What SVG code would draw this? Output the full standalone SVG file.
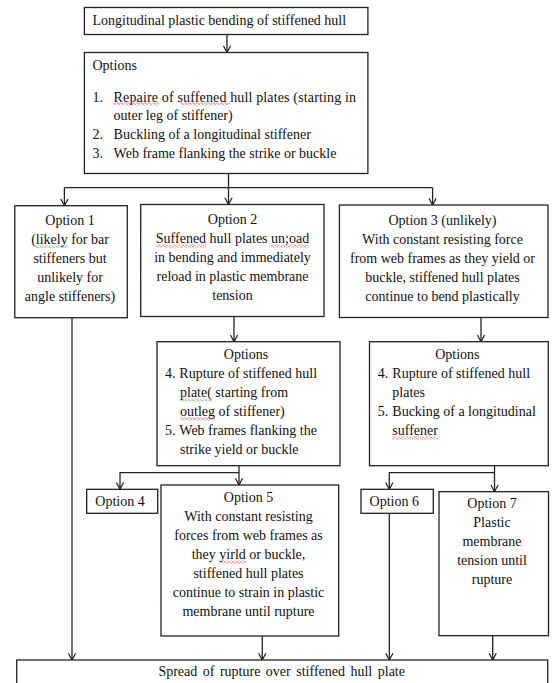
<svg xmlns="http://www.w3.org/2000/svg" width="552" height="683" viewBox="0 0 552 683">
<style>
.box{fill:#fff;stroke:#222;stroke-width:1.3}
.t{font-family:"Liberation Serif","Times New Roman",serif;font-size:14px;fill:#111}
.c{text-anchor:middle}
.ln{fill:none;stroke:#222;stroke-width:1.3}
</style>
<defs>
<marker id="ah" viewBox="0 0 10 10" refX="9.5" refY="5" markerWidth="9" markerHeight="9" markerUnits="userSpaceOnUse" orient="auto">
<path d="M2,1 L9.5,5 L2,9" fill="none" stroke="#222" stroke-width="1.4"/>
</marker>
<pattern id="wr" patternUnits="userSpaceOnUse" width="4" height="3">
<path d="M0,1.5 L1,0.5 L3,2.5 L4,1.5" fill="none" stroke="#e02020" stroke-width="0.8"/>
</pattern>
<pattern id="wg" patternUnits="userSpaceOnUse" width="4" height="3">
<path d="M0,1.5 L1,0.5 L3,2.5 L4,1.5" fill="none" stroke="#2a9a2a" stroke-width="0.8"/>
</pattern>
</defs>

<g id="connectors">
<line class="ln" x1="227" y1="34.5" x2="227" y2="52.5" marker-end="url(#ah)"/>
<line class="ln" x1="228.5" y1="173.5" x2="228.5" y2="187.7"/>
<line class="ln" x1="64.4" y1="187.7" x2="432.6" y2="187.7"/>
<line class="ln" x1="64.4" y1="187.7" x2="64.4" y2="205.7" marker-end="url(#ah)"/>
<line class="ln" x1="228.5" y1="187.7" x2="228.5" y2="204.5" marker-end="url(#ah)"/>
<line class="ln" x1="432.6" y1="187.7" x2="432.6" y2="205" marker-end="url(#ah)"/>
<line class="ln" x1="72" y1="317.7" x2="72" y2="660" marker-end="url(#ah)"/>
<line class="ln" x1="234" y1="316.5" x2="234" y2="341.7" marker-end="url(#ah)"/>
<line class="ln" x1="481" y1="317.5" x2="481" y2="341.7" marker-end="url(#ah)"/>
<line class="ln" x1="239" y1="465.7" x2="239" y2="485" marker-end="url(#ah)"/>
<polyline class="ln" points="239,472.7 120,472.7 120,489.3" marker-end="url(#ah)"/>
<line class="ln" x1="494.5" y1="465.7" x2="494.5" y2="491.7" marker-end="url(#ah)"/>
<polyline class="ln" points="494.5,472.7 389.3,472.7 389.3,489.3" marker-end="url(#ah)"/>
<line class="ln" x1="262.3" y1="636" x2="262.3" y2="660" marker-end="url(#ah)"/>
<line class="ln" x1="389.3" y1="513.3" x2="389.3" y2="660" marker-end="url(#ah)"/>
<line class="ln" x1="492.7" y1="635.7" x2="492.7" y2="660" marker-end="url(#ah)"/>
</g>

<g id="n-top">
<rect class="box" x="84.4" y="7.5" width="283.5" height="27"/>
<text class="t" x="92.5" y="25">Longitudinal plastic bending of stiffened hull</text>
</g>

<g id="n-options">
<rect class="box" x="84.4" y="52.5" width="283.5" height="121"/>
<text class="t" x="92.5" y="70">Options</text>
<text class="t" x="92.5" y="101.5">1.</text>
<text class="t" x="113.6" y="101.5" textLength="242.4" lengthAdjust="spacing">Repaire of suffened hull plates (starting in</text>
<text class="t" x="113.6" y="120">outer leg of stiffener)</text>
<text class="t" x="92.5" y="139">2.</text>
<text class="t" x="113.6" y="139">Buckling of a longitudinal stiffener</text>
<text class="t" x="92.5" y="157.5">3.</text>
<text class="t" x="113.6" y="157.5">Web frame flanking the strike or buckle</text>
<rect x="113.6" y="102.5" width="45" height="3" fill="url(#wr)"/>
<rect x="180" y="102.5" width="50" height="3" fill="url(#wr)"/>
</g>

<g id="n-opt1">
<rect class="box" x="14.8" y="205.7" width="112.5" height="112"/>
<text class="t c" x="70" y="224.5">Option 1</text>
<text class="t c" x="70" y="243.5">(likely for bar</text>
<text class="t c" x="70" y="262.5">stiffeners but</text>
<text class="t c" x="70" y="281.5">unlikely for</text>
<text class="t c" x="70" y="300.5">angle stiffeners)</text>
<rect x="36" y="245" width="32" height="3" fill="url(#wg)"/>
</g>

<g id="n-opt2">
<rect class="box" x="140.7" y="204.5" width="183.3" height="112"/>
<text class="t c" x="232.5" y="224">Option 2</text>
<text class="t c" x="232.5" y="243">Suffened hull plates un;oad</text>
<text class="t c" x="232.5" y="262">in bending and immediately</text>
<text class="t c" x="232.5" y="281">reload in plastic membrane</text>
<text class="t c" x="232.5" y="300">tension</text>
<rect x="156" y="244.5" width="50" height="3" fill="url(#wr)"/>
<rect x="271" y="244.5" width="38" height="3" fill="url(#wr)"/>
</g>

<g id="n-opt3">
<rect class="box" x="339.4" y="205" width="208.6" height="112.5"/>
<text class="t c" x="442.5" y="224.5">Option 3 (unlikely)</text>
<text class="t c" x="442.5" y="243.5">With constant resisting force</text>
<text class="t c" x="442.5" y="262.5">from web frames as they yield or</text>
<text class="t c" x="442.5" y="281.5">buckle, stiffened hull plates</text>
<text class="t c" x="442.5" y="300.5">continue to bend plastically</text>
</g>

<g id="n-optionsA">
<rect class="box" x="157" y="341.7" width="183" height="124"/>
<text class="t c" x="246" y="359">Options</text>
<text class="t" x="165" y="378">4.</text>
<text class="t" x="179.3" y="378">Rupture of stiffened hull</text>
<text class="t" x="180" y="397">plate( starting from</text>
<text class="t" x="180" y="416">outleg of stiffener)</text>
<text class="t" x="165" y="435">5.</text>
<text class="t" x="179.3" y="435">Web frames flanking the</text>
<text class="t" x="180" y="454">strike yield or buckle</text>
<rect x="180" y="398.5" width="32" height="3" fill="url(#wg)"/>
<rect x="180" y="417.5" width="35" height="3" fill="url(#wr)"/>
</g>

<g id="n-optionsB">
<rect class="box" x="369.5" y="341.7" width="178.8" height="124"/>
<text class="t c" x="457.3" y="359">Options</text>
<text class="t" x="377.7" y="378">4.</text>
<text class="t" x="392.3" y="378">Rupture of stiffened hull</text>
<text class="t" x="392.3" y="397">plates</text>
<text class="t" x="377.7" y="416">5.</text>
<text class="t" x="392.3" y="416">Bucking of a longitudinal</text>
<text class="t" x="392.3" y="435">suffener</text>
<rect x="392.3" y="436.5" width="46" height="3" fill="url(#wr)"/>
</g>

<g id="n-opt4">
<rect class="box" x="86.7" y="489.3" width="71" height="24"/>
<text class="t c" x="120" y="506">Option 4</text>
</g>

<g id="n-opt5">
<rect class="box" x="161" y="485" width="177.7" height="151"/>
<text class="t c" x="248.5" y="502">Option 5</text>
<text class="t c" x="248.5" y="521">With constant resisting</text>
<text class="t c" x="248.5" y="540">forces from web frames as</text>
<text class="t c" x="248.5" y="559">they yirld or buckle,</text>
<text class="t c" x="248.5" y="578">stiffened hull plates</text>
<text class="t c" x="248.5" y="597">continue to strain in plastic</text>
<text class="t c" x="248.5" y="616">membrane until rupture</text>
<rect x="219.5" y="560.5" width="26.5" height="3" fill="url(#wr)"/>
</g>

<g id="n-opt6">
<rect class="box" x="361" y="489.3" width="72.3" height="24"/>
<text class="t c" x="394.3" y="506">Option 6</text>
</g>

<g id="n-opt7">
<rect class="box" x="439" y="491.7" width="109.5" height="144"/>
<text class="t c" x="492" y="508">Option 7</text>
<text class="t c" x="492" y="527">Plastic</text>
<text class="t c" x="492" y="546">membrane</text>
<text class="t c" x="492" y="565">tension until</text>
<text class="t c" x="492" y="584">rupture</text>
</g>

<g id="n-bottom">
<rect class="box" x="16.7" y="660" width="531" height="40"/>
<text class="t c" x="281.7" y="676" word-spacing="2">Spread of rupture over stiffened hull plate</text>
</g>
</svg>
